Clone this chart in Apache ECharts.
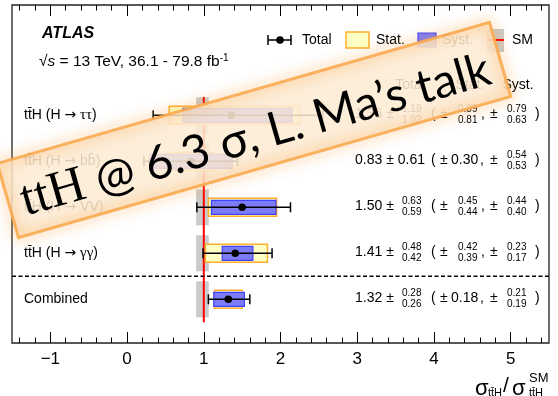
<!DOCTYPE html>
<html><head><meta charset="utf-8">
<script src="https://cdn.jsdelivr.net/npm/echarts@6/dist/echarts.min.js"></script>
<style>html,body{margin:0;padding:0;background:#fff}#c{width:558px;height:396px}</style>
</head><body><div id="c"></div>
<script>
// ---- data ----
const categories = ['tt\u0304H (H \u2192 \u03c4\u03c4)', 'tt\u0304H (H \u2192 bb\u0304)', 'tt\u0304H (H \u2192 VV)', 'tt\u0304H (H \u2192 \u03b3\u03b3)', 'Combined'];
const rowPos  = [5, 4, 3, 2, 1];
const mu      = [1.36, 0.83, 1.50, 1.41, 1.32];
const totUp   = [1.19, 0.61, 0.63, 0.48, 0.28];
const totDn   = [1.02, 0.61, 0.59, 0.42, 0.26];
const statUp  = [0.89, 0.30, 0.45, 0.42, 0.18];
const statDn  = [0.81, 0.30, 0.44, 0.39, 0.18];
const systUp  = [0.79, 0.54, 0.44, 0.23, 0.21];
const systDn  = [0.63, 0.53, 0.40, 0.17, 0.19];
const smBand  = [0.90, 1.065];
const smValue = 1;
const majorTicks = [-1, 0, 1, 2, 3, 4, 5];
const tickLabels = ['\u22121', '0', '1', '2', '3', '4', '5'];
const minorTicks = [-1.4, -1.2, -0.8, -0.6, -0.4, -0.2, 0.2, 0.4, 0.6, 0.8, 1.2, 1.4, 1.6, 1.8,
  2.2, 2.4, 2.6, 2.8, 3.2, 3.4, 3.6, 3.8, 4.2, 4.4, 4.6, 4.8, 5.2, 5.4];
const xRange = [-1.5, 5.5];
const separatorY = 1.5;

const FONT = 'Liberation Sans';
const f2 = v => v.toFixed(2);

function xAx(pos, ticks, len, labels) {
  return {
    type: 'value', min: xRange[0], max: xRange[1], position: pos,
    axisLine: {show: false}, splitLine: {show: false},
    axisTick: {show: true, inside: true, length: len, customValues: ticks, lineStyle: {color: '#000', width: 1}},
    axisLabel: labels ? {show: true, customValues: majorTicks, margin: 8, fontSize: 17, color: '#000', fontFamily: FONT,
      formatter: v => tickLabels[majorTicks.indexOf(Math.round(v))]} : {show: false}
  };
}

// split a label into styled runs; combining marks stay with their base char
function richLabel(s) {
  const runs = [];
  for (const ch of s) {
    let st;
    if (/[\u0300-\u036f]/.test(ch) && runs.length) { runs[runs.length - 1].t += ch; continue; }
    if (ch === '\u2192') st = 'ar';
    else if (/[\u03b1-\u03c9]/.test(ch)) st = 'gr';
    else st = 'n';
    if (runs.length && runs[runs.length - 1].s === st) runs[runs.length - 1].t += ch;
    else runs.push({s: st, t: ch});
  }
  return runs.map(r => '{' + r.s + '|' + r.t + '}').join('');
}
const labelRich = {
  n: {fontSize: 14, fontFamily: FONT},
  ar: {fontSize: 14, fontFamily: 'DejaVu Sans'},
  gr: {fontSize: 15, fontFamily: 'Liberation Serif'}
};

function renderSM(params, api) {
  const r = api.value(1);
  const p1 = api.coord([smBand[0], r]);
  const p2 = api.coord([smBand[1], r]);
  return {type: 'rect', shape: {x: p1[0], y: p1[1] - 18, width: p2[0] - p1[0], height: 36},
    style: {fill: '#cbcbcb'}};
}
function renderRed(params, api) {
  const a = api.coord([smValue, 5.4]);
  const b = api.coord([smValue, 0.5]);
  return {type: 'line', shape: {x1: a[0], y1: a[1], x2: b[0], y2: b[1]}, style: {stroke: '#ff0000', lineWidth: 2}};
}
function renderSep(params, api) {
  const a = api.coord([xRange[0], separatorY]);
  const b = api.coord([xRange[1], separatorY]);
  return {type: 'line', shape: {x1: a[0], y1: a[1], x2: b[0], y2: b[1]}, style: {stroke: '#000', lineWidth: 1.5, lineDash: [4, 2.5]}};
}
function renderMeas(params, api) {
  const i = params.dataIndex;
  const r = rowPos[i];
  const c = api.coord([mu[i], r]);
  const x = v => api.coord([v, r])[0];
  const y = c[1];
  const s0 = x(mu[i] - statDn[i]), s1 = x(mu[i] + statUp[i]);
  const y0 = x(mu[i] - systDn[i]), y1 = x(mu[i] + systUp[i]);
  const t0 = x(mu[i] - totDn[i]), t1 = x(mu[i] + totUp[i]);
  return {type: 'group', children: [
    {type: 'rect', shape: {x: s0, y: y - 9, width: s1 - s0, height: 18}, style: {fill: '#ffffc4', stroke: '#ffae2e', lineWidth: 1.5}},
    {type: 'rect', shape: {x: y0, y: y - 7, width: y1 - y0, height: 14}, style: {fill: '#7c7cf8', stroke: '#4040ff', lineWidth: 1.2}},
    {type: 'line', shape: {x1: t0, y1: y, x2: t1, y2: y}, style: {stroke: '#000', lineWidth: 1.5}},
    {type: 'line', shape: {x1: t0, y1: y - 5, x2: t0, y2: y + 5}, style: {stroke: '#000', lineWidth: 1.5}},
    {type: 'line', shape: {x1: t1, y1: y - 5, x2: t1, y2: y + 5}, style: {stroke: '#000', lineWidth: 1.5}},
    {type: 'circle', shape: {cx: c[0], cy: y, r: 3.8}, style: {fill: '#000'}}
  ]};
}
function txt(t, x, y, size, align, extra) {
  return {type: 'text', style: Object.assign({text: t, x: x, y: y, fill: '#000', fontSize: size, fontFamily: FONT,
    align: align || 'left', verticalAlign: 'middle'}, extra || {})};
}
function stacked(up, dn, x, y) {
  return [txt(f2(up), x, y - 5.5, 10), txt(f2(dn), x, y + 5.5, 10)];
}
function renderText(params, api) {
  const i = params.dataIndex;
  const r = rowPos[i];
  const y = api.coord([0, r])[1] - 1;
  const left = api.coord([xRange[0], r])[0];
  const ch = [{type: 'text', style: {text: richLabel(categories[i]), x: left + 12, y: y + 1, fill: '#000',
    verticalAlign: 'middle', rich: labelRich}}];
  if (totUp[i] === totDn[i]) {
    ch.push(txt(f2(mu[i]) + ' \u00b1 ' + f2(totUp[i]), 355, y, 14));
  } else {
    ch.push(txt(f2(mu[i]) + ' \u00b1', 355, y, 14));
    ch.push(...stacked(totUp[i], totDn[i], 402, y));
  }
  ch.push(txt('(', 431, y, 14));
  ch.push(txt('\u00b1', 440, y, 14));
  if (statUp[i] === statDn[i]) {
    ch.push(txt(f2(statUp[i]), 451, y, 14));
    ch.push(txt(',', 480, y, 14));
  } else {
    ch.push(...stacked(statUp[i], statDn[i], 458, y));
    ch.push(txt(',', 481, y, 14));
  }
  ch.push(txt('\u00b1', 490, y, 14));
  if (systUp[i] === systDn[i]) {
    ch.push(txt(f2(systUp[i]), 502, y, 14));
  } else {
    ch.push(...stacked(systUp[i], systDn[i], 507, y));
  }
  ch.push(txt(')', 535, y, 14));
  return {type: 'group', children: ch};
}

const rowData = rowPos.map((r, i) => [mu[i], r]);

const chart = echarts.init(document.getElementById('c'), null, {renderer: 'canvas'});
chart.setOption({
  animation: false,
  backgroundColor: '#fff',
  grid: {left: 12, right: 9, top: 5, bottom: 53, show: true, borderColor: '#222', borderWidth: 1.3, backgroundColor: 'transparent'},
  xAxis: [xAx('bottom', majorTicks, 11, true), xAx('bottom', minorTicks, 5.5, false),
          xAx('top', majorTicks, 11, false), xAx('top', minorTicks, 5.5, false)],
  yAxis: {type: 'value', min: 0.05, max: 7.398, show: false},
  series: [
    {type: 'custom', renderItem: renderSM, data: rowData, encode: {x: 0, y: 1}, z: 2},
    {type: 'custom', renderItem: renderRed, data: [[smValue, 3]], encode: {x: 0, y: 1}, z: 3},
    {type: 'custom', renderItem: renderSep, data: [[0, separatorY]], encode: {x: 0, y: 1}, z: 3},
    {type: 'custom', renderItem: renderMeas, data: rowData, encode: {x: 0, y: 1}, z: 4},
    {type: 'custom', renderItem: renderText, data: rowData, encode: {x: 0, y: 1}, z: 5, clip: false}
  ],
  graphic: [
    // titles
    {type: 'text', x: 42, y: 34, style: {text: 'ATLAS', fontSize: 16, fontWeight: 'bold', fontStyle: 'italic', fontFamily: FONT, fill: '#000', verticalAlign: 'middle'}},
    {type: 'text', x: 39, y: 62, style: {text: '{n|\u221a}{i|s}{n| = 13 TeV, 36.1 - 79.8 fb}{s|-1}', verticalAlign: 'middle', fill: '#000',
      rich: {n: {fontSize: 15.5, fontFamily: FONT, lineHeight: 18}, i: {fontSize: 15.5, fontStyle: 'italic', fontFamily: FONT, lineHeight: 18},
             s: {fontSize: 10, fontFamily: FONT, verticalAlign: 'top', lineHeight: 18}}}},
    // legend
    {type: 'line', shape: {x1: 268, y1: 40, x2: 291, y2: 40}, style: {stroke: '#000', lineWidth: 1.5}},
    {type: 'line', shape: {x1: 268, y1: 35, x2: 268, y2: 45}, style: {stroke: '#000', lineWidth: 1.5}},
    {type: 'line', shape: {x1: 291, y1: 35, x2: 291, y2: 45}, style: {stroke: '#000', lineWidth: 1.5}},
    {type: 'circle', shape: {cx: 280, cy: 40, r: 3.8}, style: {fill: '#000'}},
    {type: 'text', x: 302, y: 40, style: {text: 'Total', fontSize: 14, fontFamily: FONT, fill: '#000', verticalAlign: 'middle'}},
    {type: 'rect', shape: {x: 346, y: 32, width: 23, height: 16}, style: {fill: '#ffffc4', stroke: '#ffae2e', lineWidth: 1.5}},
    {type: 'text', x: 376, y: 40, style: {text: 'Stat.', fontSize: 14, fontFamily: FONT, fill: '#000', verticalAlign: 'middle'}},
    {type: 'rect', shape: {x: 418, y: 33, width: 18, height: 14}, style: {fill: '#7c7cf8', stroke: '#4040ff', lineWidth: 1.2}},
    {type: 'text', x: 442, y: 40, style: {text: 'Syst.', fontSize: 14, fontFamily: FONT, fill: '#000', verticalAlign: 'middle'}},
    {type: 'rect', shape: {x: 487, y: 29, width: 17, height: 23}, style: {fill: '#cbcbcb'}},
    {type: 'line', shape: {x1: 487, y1: 40, x2: 504, y2: 40}, style: {stroke: '#ff0000', lineWidth: 2}},
    {type: 'text', x: 512, y: 40, style: {text: 'SM', fontSize: 14, fontFamily: FONT, fill: '#000', verticalAlign: 'middle'}},
    // column header
    {type: 'text', x: 410, y: 85, style: {text: 'Total', fontSize: 14, fontFamily: FONT, fill: '#000', align: 'center', verticalAlign: 'middle'}},
    {type: 'text', x: 470, y: 85, style: {text: 'Stat.', fontSize: 14, fontFamily: FONT, fill: '#000', align: 'center', verticalAlign: 'middle'}},
    {type: 'text', x: 518, y: 85, style: {text: 'Syst.', fontSize: 14, fontFamily: FONT, fill: '#000', align: 'center', verticalAlign: 'middle'}},
    // axis title
    {type: 'text', x: 475, y: 389, style: {text: '\u03c3', fontSize: 22, fontFamily: FONT, fill: '#000', verticalAlign: 'middle'}},
    {type: 'text', x: 488, y: 393, style: {text: 'tt\u0304H', fontSize: 11, fontFamily: FONT, fill: '#000', verticalAlign: 'middle'}},
    {type: 'text', x: 503, y: 386, style: {text: '/', fontSize: 21, fontFamily: FONT, fill: '#000', verticalAlign: 'middle'}},
    {type: 'text', x: 512, y: 389, style: {text: '\u03c3', fontSize: 22, fontFamily: FONT, fill: '#000', verticalAlign: 'middle'}},
    {type: 'text', x: 529, y: 378, style: {text: 'SM', fontSize: 13, fontFamily: FONT, fill: '#000', verticalAlign: 'middle'}},
    {type: 'text', x: 529, y: 393, style: {text: 'tt\u0304H', fontSize: 11, fontFamily: FONT, fill: '#000', verticalAlign: 'middle'}},
    // overlay banner
    {type: 'group', x: 254, y: 130, rotation: 16 * Math.PI / 180, z: 100, children: [
      {type: 'rect', z: 100, shape: {x: -256, y: -38.5, width: 512, height: 77},
        style: {fill: 'rgba(253,235,213,0.87)'}},
      {type: 'rect', z: 101, shape: {x: -256, y: -38.5, width: 512, height: 77},
        style: {fill: 'none', stroke: 'rgba(250,170,80,0.9)', lineWidth: 3, shadowBlur: 14, shadowColor: 'rgba(247,145,30,0.95)'}},
      {type: 'text', z: 102, x: 0, y: 6, style: {text: '{a|ttH}{b| @ 6.3 \u03c3, L. Ma\u2019s talk}', align: 'center', verticalAlign: 'middle', fill: '#000',
        rich: {a: {fontFamily: 'Liberation Serif', fontSize: 51}, b: {fontFamily: 'Lato', fontSize: 47}}}}
    ]}
  ]
});
</script>
</body></html>
